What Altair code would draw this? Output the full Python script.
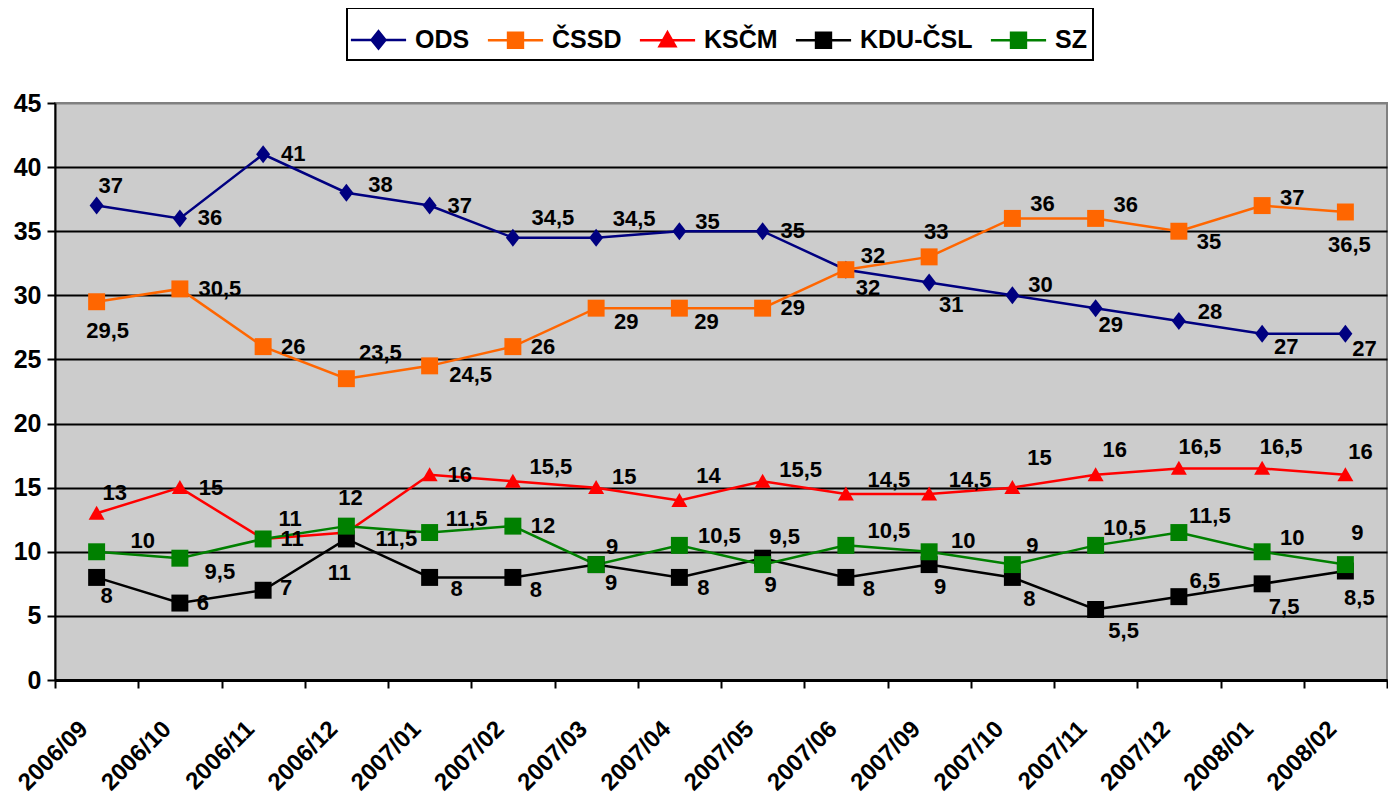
import altair as alt
import pandas as pd

months = ["2006/09", "2006/10", "2006/11", "2006/12", "2007/01", "2007/02", "2007/03", "2007/04",
          "2007/05", "2007/06", "2007/09", "2007/10", "2007/11", "2007/12", "2008/01", "2008/02"]
parties = ["ODS", "ČSSD", "KSČM", "KDU-ČSL", "SZ"]

ods = [37, 36, 41, 38, 37, 34.5, 34.5, 35, 35, 32, 31, 30, 29, 28, 27, 27]
cssd = [29.5, 30.5, 26, 23.5, 24.5, 26, 29, 29, 29, 32, 33, 36, 36, 35, 37, 36.5]
kscm = [13, 15, 11, 11.5, 16, 15.5, 15, 14, 15.5, 14.5, 14.5, 15, 16, 16.5, 16.5, 16]
kdu = [8, 6, 7, 11, 8, 8, 9, 8, 9.5, 8, 9, 8, 5.5, 6.5, 7.5, 8.5]
sz = [10, 9.5, 11, 12, 11.5, 12, 9, 10.5, 9, 10.5, 10, 9, 10.5, 11.5, 10, 9]
series = [ods, cssd, kscm, kdu, sz]

colors = ["#000080", "#FF6600", "#FF0000", "#000000", "#008000"]

# data-label placement (pixel offsets of the label centre from its point), as in the original
label_dx = [
    [14, 30, 30, 34, 30, 40, 38, 28, 30, 22, 22, 28, 15, 31, 24, 19],
    [11, 40, 30, 34, 41, 30, 30, 27, 30, 27, 7, 30, 30, 30, 30, 4],
    [18, 31, 29, 50, 30, 38, 28, 29, 38, 43, 41, 27, 19, 21, 19, 15],
    [10, 23, 23, -7, 27, 23, 15, 24, 22, 23, 11, 17, 28, 26, 22, 14],
    [46, 40, 27, 4, 37, 30, 16, 40, 8, 43, 34, 20, 29, 31, 30, 12],
]
label_dy = [
    [-20, 0, 0, -8, 0, -20, -19, -9, 0, 18, 22, -10, 17, -9, 13, 15],
    [29, 0, 0, -26, 9, 0, 14, 14, 0, -14, -25, -14, -13, 11, -8, 33],
    [-20, 0, 0, 6, 0, -14, -11, -24, -11, -14, -14, -30, -25, -21, -21, -23],
    [19, 0, -2, 34, 12, 13, 18, 11, -21, 12, 22, 22, 22, -16, 23, 27],
    [-11, 14, -20, -28, -14, 0, -18, -9, 20, -14, -11, -19, -17, -17, -14, -32],
]

W, H = 1332, 577
px_per_unit = H / 45.0
band = W / len(months)

rows = []
for p, vals, dxs, dys in zip(parties, series, label_dx, label_dy):
    for m, v, dx, dy in zip(months, vals, dxs, dys):
        txt = (str(int(v)) if float(v).is_integer() else str(v)).replace(".", ",")
        rows.append({"month": m, "party": p, "value": v, "label": txt,
                     "ldx": dx, "ly": v - dy / px_per_unit})
df = pd.DataFrame(rows)

FONT = "Liberation Sans, Arial, sans-serif"

DIAMOND = "M0,-1.125L0.875,0L0,1.125L-0.875,0Z"
SQUARE = "M-1.06,-1.06H1.06V1.06H-1.06Z"
TRIANGLE = "M0,-0.95L1,0.8H-1Z"
marker_groups = [(["ODS"], DIAMOND), (["KSČM"], TRIANGLE), (["ČSSD", "KDU-ČSL", "SZ"], SQUARE)]

# legend symbols: a line segment with the series marker on it
legend_paths = [
    "M-1.15,0H1.15M0,-0.36L0.29,0L0,0.36L-0.29,0Z",
    "M-1.15,0H1.15M-0.31,-0.31H0.31V0.31H-0.31Z",
    "M-1.15,0H1.15M0,-0.33L0.33,0.25H-0.33Z",
    "M-1.15,0H1.15M-0.31,-0.31H0.31V0.31H-0.31Z",
    "M-1.15,0H1.15M-0.31,-0.31H0.31V0.31H-0.31Z",
]

legend = alt.Legend(
    orient="none", legendX=292, legendY=-95, direction="horizontal", title=None,
    symbolSize=2304, labelFont=FONT, labelFontSize=25, labelFontWeight="bold",
    labelColor="black", padding=6, columnPadding=12, labelOffset=11,
    symbolStrokeWidth=2.5, symbolOpacity=1,
)

x_enc = alt.X("month:N", sort=months,
              scale=alt.Scale(type="band", domain=months, paddingInner=0, paddingOuter=0),
              axis=alt.Axis(title=None, tickBand="extent", labelAngle=315, labelAlign="right",
                            labelBaseline="middle", labelFont=FONT, labelFontSize=24,
                            labelFontWeight="bold", labelColor="black", labelPadding=37,
                            labelOffset=-13, domainColor="black", domainWidth=3,
                            tickColor="black", tickWidth=2, tickSize=8, grid=False,
                            labelOverlap=False))
y_scale = alt.Scale(domain=[0, 45], nice=False, zero=True)
y_axis = alt.Axis(title=None, values=list(range(0, 46, 5)), labelFont=FONT, labelFontSize=25,
                  labelFontWeight="bold", labelColor="black", labelPadding=6,
                  domainColor="black", domainWidth=2, tickColor="black", tickWidth=2,
                  tickSize=8, grid=True, gridWidth=2,
                  gridColor={"condition": {"test": "datum.value === 45", "value": "#808080"},
                             "value": "black"})

# colour scale for lines/markers: domain taken from the data (sorted), so that its
# disabled legend is not merged with the legend-owning fill/stroke/shape scales
color_enc = alt.Color("party:N", sort=parties, scale=alt.Scale(range=colors), legend=None)

base = alt.Chart(df)

lines = base.mark_line(strokeWidth=2.5).encode(
    x=x_enc,
    y=alt.Y("value:Q", scale=y_scale, axis=y_axis),
    color=color_enc,
    detail="party:N",
)

marker_layers = []
for names, path in marker_groups:
    marker_layers.append(
        base.transform_filter(alt.FieldOneOfPredicate(field="party", oneOf=names))
        .mark_point(filled=True, size=256, opacity=1, strokeWidth=0, shape=path)
        .encode(
            x=x_enc,
            y=alt.Y("value:Q", scale=y_scale, axis=y_axis),
            color=color_enc,
        )
    )

# legend-owning layer: invisible marks, line + marker legend symbols
legend_layer = base.transform_filter(alt.datum.month == months[0]).mark_point(
    filled=True, opacity=0, size=1).encode(
    x=x_enc,
    y=alt.Y("value:Q", scale=y_scale, axis=y_axis),
    fill=alt.Fill("party:N", scale=alt.Scale(domain=parties, range=colors), legend=legend),
    stroke=alt.Stroke("party:N", scale=alt.Scale(domain=parties, range=colors), legend=legend),
    shape=alt.Shape("party:N", scale=alt.Scale(domain=parties, range=legend_paths), legend=legend),
)

labels = base.mark_text(font=FONT, fontSize=22, fontWeight="bold", color="black",
                        align="center", baseline="middle").encode(
    x=x_enc,
    xOffset=alt.XOffset("ldx:Q", scale=alt.Scale(domain=[-band / 2, band / 2], range=[0, band],
                                                  nice=False, zero=False)),
    y=alt.Y("ly:Q", scale=y_scale, axis=y_axis),
    text="label:N",
)

chart = alt.layer(lines, *marker_layers, legend_layer, labels).properties(
    width=W, height=H,
    autosize=alt.AutoSizeParams(type="none"),
    padding={"left": 47, "top": 95, "right": 1, "bottom": 113},
    background="white",
).configure_view(fill="#CCCCCC", stroke="#808080", strokeWidth=2
).configure_legend(strokeColor="black", strokeWidth=2)

chart.save("out.html", embed_options={"renderer": "svg", "actions": False})
